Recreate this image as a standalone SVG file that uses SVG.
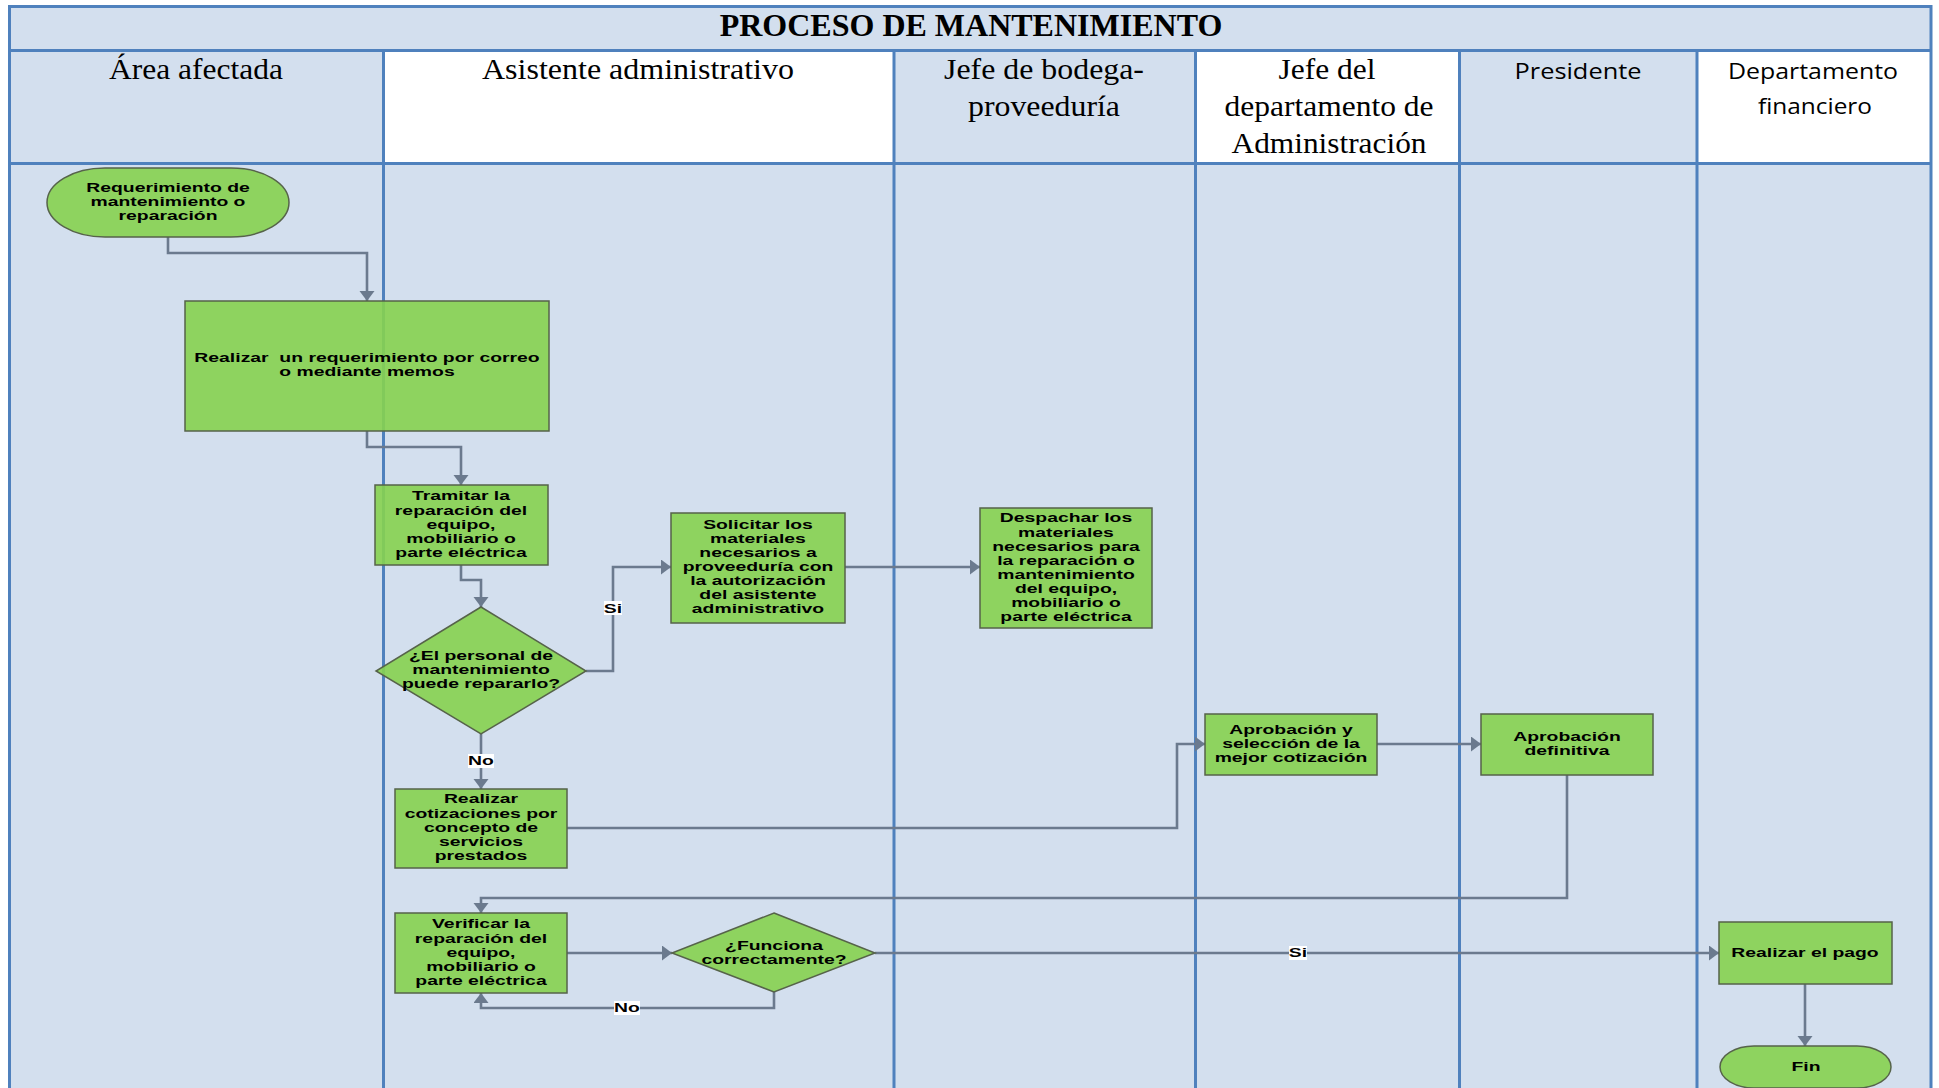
<svg xmlns="http://www.w3.org/2000/svg" width="1939" height="1088" viewBox="0 0 1939 1088">
  <style>
    .lane { fill: #D3DFEE; }
    .hdr-white { fill: #FFFFFF; }
    .grid { stroke: #4F81BD; stroke-width: 3; fill: none; }
    .node { fill: #86D14F; fill-opacity: 0.9; stroke: #56634A; stroke-width: 1.5; }
    .conn { stroke: #6B7A8E; stroke-width: 2.6; fill: none; }
    .title { font-family: "Liberation Serif", "Times New Roman", serif; font-weight: bold; font-size: 32px; fill: #000; }
    .hs { font-family: "Liberation Serif", "Times New Roman", serif; font-size: 29px; fill: #000; }
    .hc { font-family: "Open Sans", "Noto Sans", sans-serif; font-size: 22px; fill: #000; }
    .t { font-family: "Liberation Sans", Arial, sans-serif; font-weight: bold; font-size: 13px; fill: #000; text-anchor: middle; }
    .lbl-bg { fill: #FFFFFF; }
  </style>
  <defs>
    <marker id="arrow" markerUnits="userSpaceOnUse" markerWidth="12" markerHeight="16" refX="10" refY="7.5" orient="auto">
      <path d="M0,0 L10,7.5 L0,15 z" fill="#6B7A8E"/>
    </marker>
  </defs>

  <!-- swimlane table -->
  <g id="table">
    <rect class="lane" x="9.5" y="6.5" width="1921.5" height="1081.5"/>
    <rect class="hdr-white" x="383.5" y="50.5" width="510.5" height="113"/>
    <rect class="hdr-white" x="1195.5" y="50.5" width="264" height="113"/>
    <rect class="hdr-white" x="1697" y="50.5" width="234" height="113"/>
    <path class="grid" d="M9.5,1088 V6.5 H1931 V1088 M9.5,50.5 H1931 M9.5,163.5 H1931 M383.5,50.5 V1088 M894,50.5 V1088 M1195.5,50.5 V1088 M1459.5,50.5 V1088 M1697,50.5 V1088"/>
    <text class="title" x="971" y="36" text-anchor="middle">PROCESO DE MANTENIMIENTO</text>
    <text class="hs" x="196" y="79" text-anchor="middle" textLength="174" lengthAdjust="spacingAndGlyphs">Área afectada</text>
    <text class="hs" x="638" y="79" text-anchor="middle" textLength="312" lengthAdjust="spacingAndGlyphs">Asistente administrativo</text>
    <text class="hs" x="1044" y="79" text-anchor="middle" textLength="200" lengthAdjust="spacingAndGlyphs">Jefe de bodega-</text>
    <text class="hs" x="1044" y="116" text-anchor="middle" textLength="152" lengthAdjust="spacingAndGlyphs">proveeduría</text>
    <text class="hs" x="1327" y="79" text-anchor="middle" textLength="97" lengthAdjust="spacingAndGlyphs">Jefe del</text>
    <text class="hs" x="1329" y="116" text-anchor="middle" textLength="209" lengthAdjust="spacingAndGlyphs">departamento de</text>
    <text class="hs" x="1329" y="153" text-anchor="middle" textLength="195" lengthAdjust="spacingAndGlyphs">Administración</text>
    <text class="hc" x="1578" y="79" text-anchor="middle" textLength="127" lengthAdjust="spacingAndGlyphs">Presidente</text>
    <text class="hc" x="1813" y="79" text-anchor="middle" textLength="170" lengthAdjust="spacingAndGlyphs">Departamento</text>
    <text class="hc" x="1815" y="114" text-anchor="middle" textLength="114" lengthAdjust="spacingAndGlyphs">financiero</text>
  </g>

  <!-- connectors -->
  <g id="connectors">
    <path class="conn" d="M168,237 V253 H367 V301" marker-end="url(#arrow)"/>
    <path class="conn" d="M367,431 V447 H461 V485" marker-end="url(#arrow)"/>
    <path class="conn" d="M461,565 V580 H481 V607" marker-end="url(#arrow)"/>
    <path class="conn" d="M586,671 H613 V567 H671" marker-end="url(#arrow)"/>
    <path class="conn" d="M845,567 H980" marker-end="url(#arrow)"/>
    <path class="conn" d="M481,734 V789" marker-end="url(#arrow)"/>
    <path class="conn" d="M567,828 H1177 V744 H1205" marker-end="url(#arrow)"/>
    <path class="conn" d="M1377,744 H1481" marker-end="url(#arrow)"/>
    <path class="conn" d="M1567,775 V898 H481 V913" marker-end="url(#arrow)"/>
    <path class="conn" d="M567,953 H672" marker-end="url(#arrow)"/>
    <path class="conn" d="M875,953 H1719" marker-end="url(#arrow)"/>
    <path class="conn" d="M774,992 V1008 H481 V993" marker-end="url(#arrow)"/>
    <path class="conn" d="M1805,984 V1046" marker-end="url(#arrow)"/>
    <!-- branch labels -->
    <rect class="lbl-bg" x="604" y="601" width="18" height="14"/>
    <text class="t" transform="translate(613 0) scale(1.49 1)" x="0" y="612.5">Si</text>
    <rect class="lbl-bg" x="468" y="754" width="26" height="14"/>
    <text class="t" transform="translate(481 0) scale(1.49 1)" x="0" y="765.5">No</text>
    <rect class="lbl-bg" x="1289" y="946" width="18" height="14"/>
    <text class="t" transform="translate(1298 0) scale(1.49 1)" x="0" y="957.5">Si</text>
    <rect class="lbl-bg" x="614" y="1001" width="26" height="14"/>
    <text class="t" transform="translate(627 0) scale(1.49 1)" x="0" y="1012.5">No</text>
  </g>

  <!-- nodes -->
  <g id="n-start">
    <rect class="node" x="47" y="168" width="242" height="69" rx="58" ry="34.5"/>
    <text class="t" transform="translate(168 0) scale(1.49 1)"><tspan x="0" y="192.5">Requerimiento de</tspan><tspan x="0" y="206.5">mantenimiento o</tspan><tspan x="0" y="220.5">reparación</tspan></text>
  </g>
  <g id="n-realizar-requerimiento">
    <rect class="node" x="185" y="301" width="364" height="130"/>
    <text class="t" xml:space="preserve" transform="translate(367 0) scale(1.49 1)"><tspan x="0" y="362.5">Realizar  un requerimiento por correo</tspan><tspan x="0" y="376.5">o mediante memos</tspan></text>
  </g>
  <g id="n-tramitar">
    <rect class="node" x="375" y="485" width="173" height="80"/>
    <text class="t" transform="translate(461 0) scale(1.49 1)"><tspan x="0" y="500.5">Tramitar la</tspan><tspan x="0" y="514.8">reparación del</tspan><tspan x="0" y="529">equipo,</tspan><tspan x="0" y="543.2">mobiliario o</tspan><tspan x="0" y="557.5">parte eléctrica</tspan></text>
  </g>
  <g id="n-decision-personal">
    <polygon class="node" points="481,607 586,671 481,734 376,671"/>
    <text class="t" transform="translate(481 0) scale(1.49 1)"><tspan x="0" y="660.5">¿El personal de</tspan><tspan x="0" y="674.5">mantenimiento</tspan><tspan x="0" y="688.5">puede repararlo?</tspan></text>
  </g>
  <g id="n-solicitar">
    <rect class="node" x="671" y="513" width="174" height="110"/>
    <text class="t" transform="translate(758 0) scale(1.49 1)"><tspan x="0" y="529.5">Solicitar los</tspan><tspan x="0" y="543.5">materiales</tspan><tspan x="0" y="557.5">necesarios a</tspan><tspan x="0" y="571.5">proveeduría con</tspan><tspan x="0" y="585.5">la autorización</tspan><tspan x="0" y="599.5">del asistente</tspan><tspan x="0" y="613.5">administrativo</tspan></text>
  </g>
  <g id="n-despachar">
    <rect class="node" x="980" y="508" width="172" height="120"/>
    <text class="t" transform="translate(1066 0) scale(1.49 1)"><tspan x="0" y="522.5">Despachar los</tspan><tspan x="0" y="536.6">materiales</tspan><tspan x="0" y="550.8">necesarios para</tspan><tspan x="0" y="564.9">la reparación o</tspan><tspan x="0" y="579.1">mantenimiento</tspan><tspan x="0" y="593.2">del equipo,</tspan><tspan x="0" y="607.4">mobiliario o</tspan><tspan x="0" y="621.5">parte eléctrica</tspan></text>
  </g>
  <g id="n-cotizaciones">
    <rect class="node" x="395" y="789" width="172" height="79"/>
    <text class="t" transform="translate(481 0) scale(1.49 1)"><tspan x="0" y="803.5">Realizar</tspan><tspan x="0" y="817.8">cotizaciones por</tspan><tspan x="0" y="832">concepto de</tspan><tspan x="0" y="846.2">servicios</tspan><tspan x="0" y="860.5">prestados</tspan></text>
  </g>
  <g id="n-aprobacion-seleccion">
    <rect class="node" x="1205" y="714" width="172" height="61"/>
    <text class="t" transform="translate(1291 0) scale(1.49 1)"><tspan x="0" y="734.5">Aprobación y</tspan><tspan x="0" y="748.5">selección de la</tspan><tspan x="0" y="762.5">mejor cotización</tspan></text>
  </g>
  <g id="n-aprobacion-definitiva">
    <rect class="node" x="1481" y="714" width="172" height="61"/>
    <text class="t" transform="translate(1567 0) scale(1.49 1)"><tspan x="0" y="741.5">Aprobación</tspan><tspan x="0" y="755.5">definitiva</tspan></text>
  </g>
  <g id="n-verificar">
    <rect class="node" x="395" y="913" width="172" height="80"/>
    <text class="t" transform="translate(481 0) scale(1.49 1)"><tspan x="0" y="928.5">Verificar la</tspan><tspan x="0" y="942.8">reparación del</tspan><tspan x="0" y="957">equipo,</tspan><tspan x="0" y="971.2">mobiliario o</tspan><tspan x="0" y="985.5">parte eléctrica</tspan></text>
  </g>
  <g id="n-decision-funciona">
    <polygon class="node" points="774,913 875,953 774,992 672,953"/>
    <text class="t" transform="translate(774 0) scale(1.49 1)"><tspan x="0" y="950.5">¿Funciona</tspan><tspan x="0" y="964.5">correctamente?</tspan></text>
  </g>
  <g id="n-pago">
    <rect class="node" x="1719" y="922" width="173" height="62"/>
    <text class="t" transform="translate(1805 0) scale(1.49 1)" x="0" y="957.5">Realizar el pago</text>
  </g>
  <g id="n-fin">
    <rect class="node" x="1720" y="1046" width="171" height="42" rx="34" ry="21"/>
    <text class="t" transform="translate(1806 0) scale(1.49 1)" x="0" y="1071.5">Fin</text>
  </g>
</svg>
